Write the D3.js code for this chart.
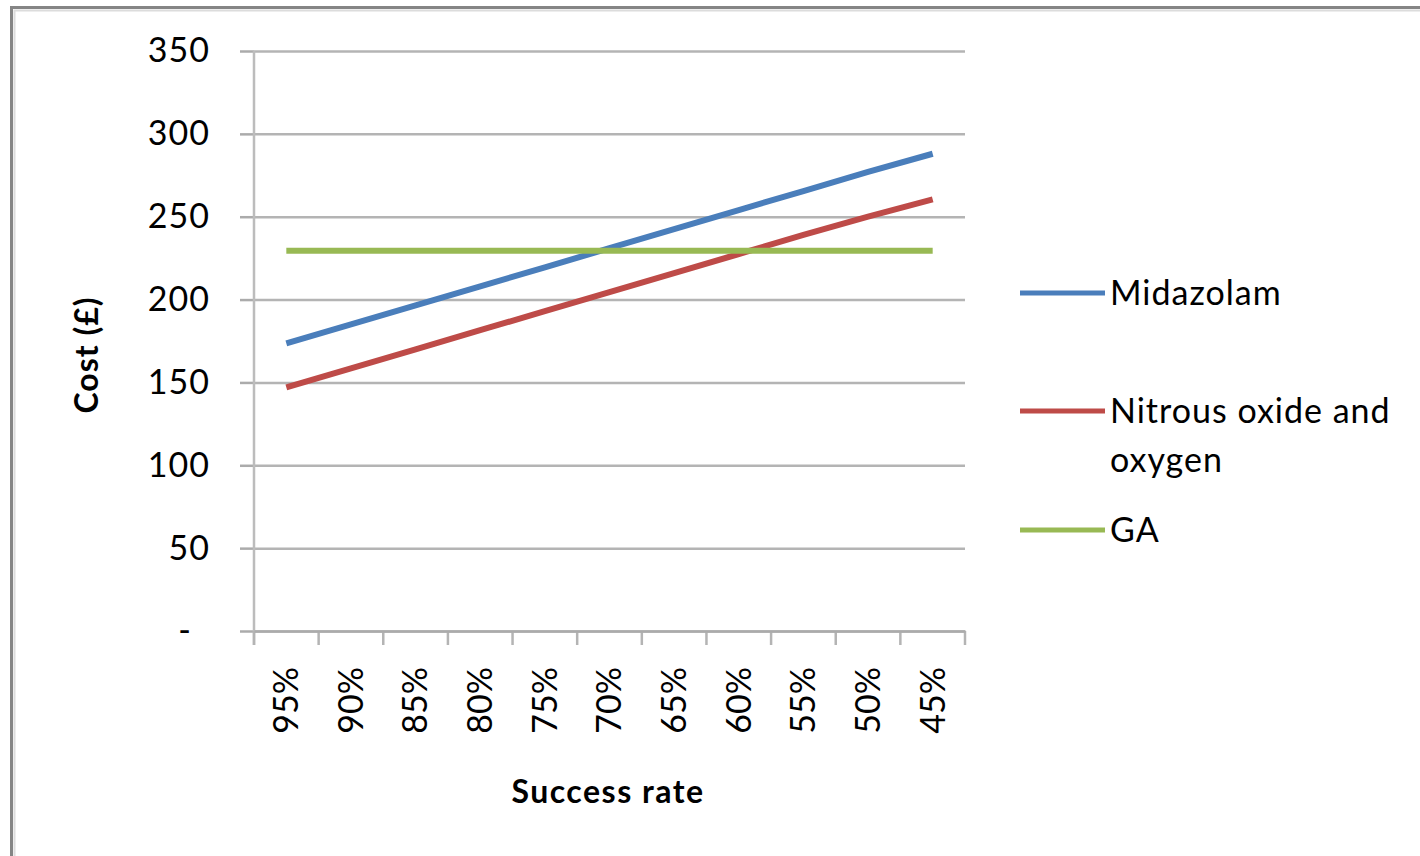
<!DOCTYPE html>
<html>
<head>
<meta charset="utf-8">
<script src="https://cdn.jsdelivr.net/npm/d3@7"></script>
<style>
  body { margin: 0; background: #fff; }
  text { font-family: Lato, "Open Sans", sans-serif; fill: #000; }
</style>
</head>
<body>
<div id="my_dataviz"></div>
<script>
// data
const rates = ["95%", "90%", "85%", "80%", "75%", "70%", "65%", "60%", "55%", "50%", "45%"]
const midazolam = [173.5, 185, 196.5, 208, 219.5, 231, 242.5, 254, 265.5, 277, 288]
const nitrous = [147, 158.5, 170, 181.5, 193, 204.5, 216, 227.5, 239, 250, 260.5]
const ga = [229.5, 229.5, 229.5, 229.5, 229.5, 229.5, 229.5, 229.5, 229.5, 229.5, 229.5]
const yTicks = [0, 50, 100, 150, 200, 250, 300, 350]

const seriesNames = ["Midazolam", "Nitrous oxide and oxygen", "GA"]
const seriesColors = ["#4a7ebb", "#be4b48", "#98b954"]

// set the dimensions and margins of the graph
const width = 1420
const height = 856
const plot = { left: 254, right: 965, top: 51, bottom: 631 }

const svg = d3.select("#my_dataviz")
              .append("svg")
              .attr("width", width)
              .attr("height", height)

// outer chart frame (only top and left edges are visible)
svg.append("path")
   .attr("d", `M11.5,${height + 5} V7.5 H${width + 5}`)
   .attr("fill", "none")
   .attr("stroke", "#858585")
   .attr("stroke-width", 3)
svg.append("path")
   .attr("d", `M14.5,${height + 5} V10.5 H${width + 5}`)
   .attr("fill", "none")
   .attr("stroke", "#dcdcdc")
   .attr("stroke-width", 2)

const x = d3.scaleBand()
            .domain(rates)
            .range([plot.left, plot.right])

const y = d3.scaleLinear()
            .domain([0, 350])
            .range([plot.bottom, plot.top])

// gridlines + y axis
const yAxis = svg.append("g")
   .attr("transform", `translate(${plot.left},0)`)
   .call(d3.axisLeft(y)
           .tickValues(yTicks)
           .tickSize(14)
           .tickPadding(30)
           .tickFormat(d => d === 0 ? "-" : d))
yAxis.select(".domain").remove()
yAxis.selectAll(".tick line")
     .attr("stroke", "#ababab")
     .attr("stroke-width", 2.5)
yAxis.selectAll(".tick")
     .append("line")
     .attr("x1", 0)
     .attr("x2", plot.right - plot.left)
     .attr("stroke", "#b4b4b4")
     .attr("stroke-width", 2.5)
yAxis.selectAll(".tick text")
     .style("font-size", "34px")
     .style("letter-spacing", "1px")
     .attr("fill", "#222")
yAxis.selectAll(".tick text")
     .filter(d => d === 0)
     .attr("dx", -18)

// vertical axis line
svg.append("line")
   .attr("x1", plot.left).attr("x2", plot.left)
   .attr("y1", plot.top).attr("y2", plot.bottom + 14)
   .attr("stroke", "#bcbcbc")
   .attr("stroke-width", 2.5)

// x axis: tick marks sit on the category boundaries
const boundaries = rates.map(d => x(d)).concat([x.range()[1]])
svg.append("g")
   .selectAll("line")
   .data(boundaries)
   .join("line")
     .attr("x1", d => d).attr("x2", d => d)
     .attr("y1", plot.bottom).attr("y2", plot.bottom + 14)
     .attr("stroke", "#b4b4b4")
     .attr("stroke-width", 2.5)

const xAxis = svg.append("g")
   .attr("transform", `translate(0,${plot.bottom})`)
   .call(d3.axisBottom(x).tickSize(0).tickPadding(0))
xAxis.select(".domain")
     .attr("stroke", "#ababab")
     .attr("stroke-width", 2.5)
xAxis.selectAll(".tick text")
     .style("font-size", "34px")
     .attr("fill", "#222")
     .attr("text-anchor", "end")
     .attr("transform", "rotate(-90)")
     .attr("x", -36)
     .attr("y", 0)
     .attr("dy", "0.35em")

// axis titles
svg.append("text")
   .attr("transform", `translate(98,${(plot.top + plot.bottom) / 2 + 14}) rotate(-90)`)
   .attr("text-anchor", "middle")
   .style("font-size", "32px")
   .style("font-weight", "bold")
   .style("letter-spacing", "1px")
   .text("Cost (£)")

svg.append("text")
   .attr("x", 608)
   .attr("y", 803)
   .attr("text-anchor", "middle")
   .style("font-size", "32px")
   .style("font-weight", "bold")
   .style("letter-spacing", "1.5px")
   .text("Success rate")

// the three lines
const series = [midazolam, nitrous, ga]
const line = d3.line()
               .x((d, i) => x(rates[i]) + x.bandwidth() / 2)
               .y(d => y(d))

svg.append("g")
   .selectAll("path")
   .data(series)
   .join("path")
     .attr("d", line)
     .attr("fill", "none")
     .attr("stroke", (d, i) => seriesColors[i])
     .attr("stroke-width", 6)

// legend
const legendY = [293, 411, 530]
const legend = svg.append("g")
   .selectAll("g")
   .data(seriesNames)
   .join("g")
     .attr("transform", (d, i) => `translate(1020,${legendY[i]})`)

legend.append("line")
      .attr("x1", 0).attr("x2", 85)
      .attr("stroke", (d, i) => seriesColors[i])
      .attr("stroke-width", 5)

legend.append("text")
      .attr("x", 90)
      .style("font-size", "34px")
      .style("letter-spacing", "1px")
      .attr("fill", "#222")
      .each(function(d) {
        const parts = d === "Nitrous oxide and oxygen" ? ["Nitrous oxide and", "oxygen"] : [d]
        d3.select(this).selectAll("tspan")
          .data(parts)
          .join("tspan")
            .attr("x", 90)
            .attr("dy", (p, j) => j === 0 ? "0.35em" : "1.45em")
            .text(p => p)
      })
</script>
</body>
</html>
